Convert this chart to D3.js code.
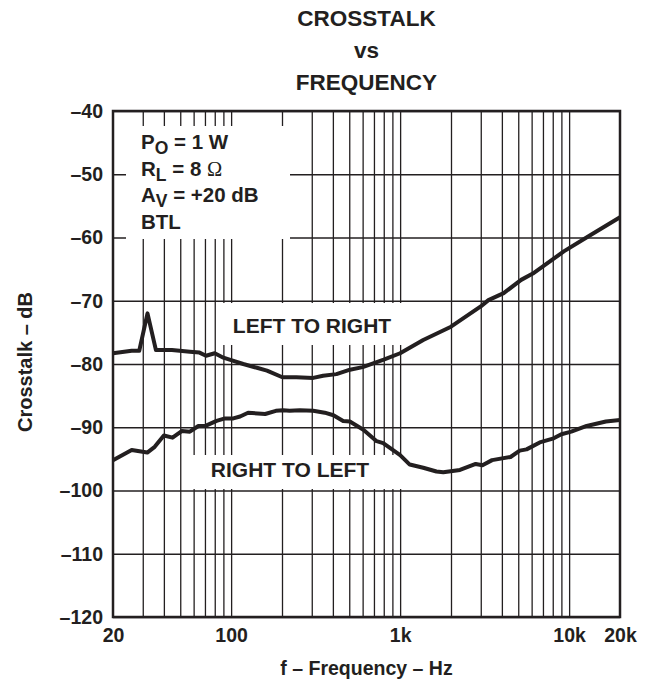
<!DOCTYPE html>
<html>
<head>
<meta charset="utf-8">
<script src="https://cdnjs.cloudflare.com/ajax/libs/d3/7.8.5/d3.min.js"></script>
<style>
  body { margin: 0; background: #fff; }
  text { font-family: "Liberation Sans", Arial, sans-serif; font-weight: bold; fill: #231f20; }
</style>
</head>
<body>
<script>
// values
const ltrFreq = [20, 25.8, 28.6, 32, 35.9, 44.6, 57, 65, 71, 80, 90, 100, 118, 142, 163, 201, 243, 306, 350, 420, 505, 600, 800, 1000, 1370, 2000, 3000, 3330, 4100, 5200, 6100, 9300, 13400, 20000];
const ltrDb = [-78.3, -77.9, -77.9, -72.0, -77.8, -77.8, -78.05, -78.2, -78.7, -78.3, -79.0, -79.4, -80.0, -80.6, -81.05, -82.1, -82.1, -82.2, -81.85, -81.6, -80.9, -80.5, -79.3, -78.3, -76.2, -74.1, -70.9, -69.9, -68.8, -66.7, -65.7, -62.2, -59.6, -56.8];

const rtlFreq = [20, 25.8, 31.9, 35.3, 40, 45, 51, 57, 64, 71, 82, 92, 103, 113, 126, 159, 184, 203, 222, 255, 306, 358, 403, 460, 504, 606, 726, 794, 1000, 1140, 1370, 1640, 1800, 2260, 2800, 3070, 3500, 4500, 5100, 5600, 6700, 8100, 9000, 10300, 12700, 16500, 20000];
const rtlDb = [-95.2, -93.6, -94.0, -93.1, -91.3, -91.65, -90.6, -90.7, -89.8, -89.75, -89.0, -88.6, -88.6, -88.3, -87.7, -87.9, -87.4, -87.3, -87.4, -87.3, -87.4, -87.7, -88.1, -89.0, -89.1, -90.4, -92.2, -92.5, -94.4, -95.9, -96.4, -97.0, -97.1, -96.75, -95.8, -96.0, -95.2, -94.7, -93.7, -93.5, -92.4, -91.75, -91.1, -90.7, -89.8, -89.1, -88.85];

const freqTicks = [20, 100, 1000, 10000, 20000];
const freqTickLabels = ["20", "100", "1k", "10k", "20k"];
const dbTicks = [-40, -50, -60, -70, -80, -90, -100, -110, -120];
const gridFreqs = [30, 40, 50, 60, 70, 80, 90, 100, 200, 300, 400, 500, 600, 700, 800, 900,
                   1000, 2000, 3000, 4000, 5000, 6000, 7000, 8000, 9000, 10000];

let margin = {top: 111, left: 113, right: 34, bottom: 64};
let width = 654 - margin.left - margin.right;
let height = 681 - margin.top - margin.bottom;

let svg = d3.select("body").append("svg")
  .attr("width", 654).attr("height", 681);

let g = svg.append("g").attr("transform", `translate(${margin.left},${margin.top})`);

let x = d3.scaleLog().domain([20, 20000]).range([0, width]);
let y = d3.scaleLinear().domain([-120, -40]).range([height, 0]);

const ink = "#231f20";

// title
const title = ["CROSSTALK", "vs", "FREQUENCY"];
svg.append("g").selectAll("text").data(title).enter().append("text")
  .attr("x", margin.left + width / 2)
  .attr("y", (d, i) => 26 + i * 32)
  .attr("text-anchor", "middle")
  .style("font-size", "22.5px")
  .text(d => d);

// grid lines
g.append("g")
  .attr("transform", `translate(0,${height})`)
  .call(d3.axisBottom(x).tickValues(gridFreqs).tickSize(-height).tickFormat(""))
  .call(s => s.select(".domain").remove())
  .call(s => s.selectAll("line").attr("stroke", ink).attr("stroke-width", 1.3));

g.append("g")
  .call(d3.axisLeft(y).tickValues(dbTicks).tickSize(-width).tickFormat(""))
  .call(s => s.select(".domain").remove())
  .call(s => s.selectAll("line").attr("stroke", ink).attr("stroke-width", 1.3));

// white boxes behind the text
const boxes = [
  {x0: 13, y0: 15, w: 164, h: 113},
  {x0: 105, y0: 192, w: 187, h: 42},
  {x0: 75, y0: 344, w: 217, h: 34}
];
g.selectAll("rect.box").data(boxes).enter().append("rect")
  .attr("class", "box")
  .attr("x", d => d.x0).attr("y", d => d.y0)
  .attr("width", d => d.w).attr("height", d => d.h)
  .attr("fill", "#fff");

// frame
g.append("rect")
  .attr("width", width).attr("height", height)
  .attr("fill", "none").attr("stroke", ink).attr("stroke-width", 2.5);

// curves
let line = d3.line().x(d => x(d[0])).y(d => y(d[1]));
[[ltrFreq, ltrDb], [rtlFreq, rtlDb]].forEach(([f, v]) => {
  g.append("path")
    .datum(f.map((d, i) => [d, v[i]]))
    .attr("d", line)
    .attr("fill", "none")
    .attr("stroke", ink)
    .attr("stroke-width", 4)
    .attr("stroke-linejoin", "round");
});

// tick labels
g.append("g")
  .attr("transform", `translate(0,${height})`)
  .call(d3.axisBottom(x).tickValues(freqTicks).tickSize(0).tickPadding(11)
    .tickFormat((d, i) => freqTickLabels[i]))
  .call(s => s.select(".domain").remove())
  .call(s => s.selectAll("text").style("font-size", "19.5px").attr("fill", ink)
    .style("font-family", "'Liberation Sans', Arial, sans-serif"));

g.append("g")
  .call(d3.axisLeft(y).tickValues(dbTicks).tickSize(0).tickPadding(10)
    .tickFormat(d => "\u2013" + Math.abs(d)))
  .call(s => s.select(".domain").remove())
  .call(s => s.selectAll("text").style("font-size", "19.5px").attr("fill", ink)
    .style("font-family", "'Liberation Sans', Arial, sans-serif"));

// axis titles
svg.append("text")
  .attr("x", margin.left + width / 2).attr("y", 675)
  .attr("text-anchor", "middle").style("font-size", "19.5px")
  .text("f \u2013 Frequency \u2013 Hz");

svg.append("text")
  .attr("transform", "translate(32,362) rotate(-90)")
  .attr("text-anchor", "middle").style("font-size", "20px")
  .text("Crosstalk \u2013 dB");

// curve labels
g.append("text").attr("x", 199).attr("y", 222).attr("text-anchor", "middle")
  .style("font-size", "21px").text("LEFT TO RIGHT");
g.append("text").attr("x", 177).attr("y", 366).attr("text-anchor", "middle")
  .style("font-size", "21px").text("RIGHT TO LEFT");

// conditions
const notes = [
  ["P", "O", " = 1 W"],
  ["R", "L", " = 8 ", "\u03A9"],
  ["A", "V", " = +20 dB"],
  ["BTL"]
];
let notesG = g.append("g").style("font-size", "20.5px");
notes.forEach((parts, i) => {
  let t = notesG.append("text").attr("x", 28).attr("y", 38 + i * 26.5);
  t.append("tspan").text(parts[0]);
  if (parts.length > 1) {
    t.append("tspan").attr("dy", 5).style("font-size", "17.5px").text(parts[1]);
    t.append("tspan").attr("dy", -5).text(parts[2]);
  }
  if (parts.length > 3) {
    t.append("tspan").style("font-family", "'Liberation Serif', serif")
      .style("font-weight", "normal").text(parts[3]);
  }
});
</script>
</body>
</html>
